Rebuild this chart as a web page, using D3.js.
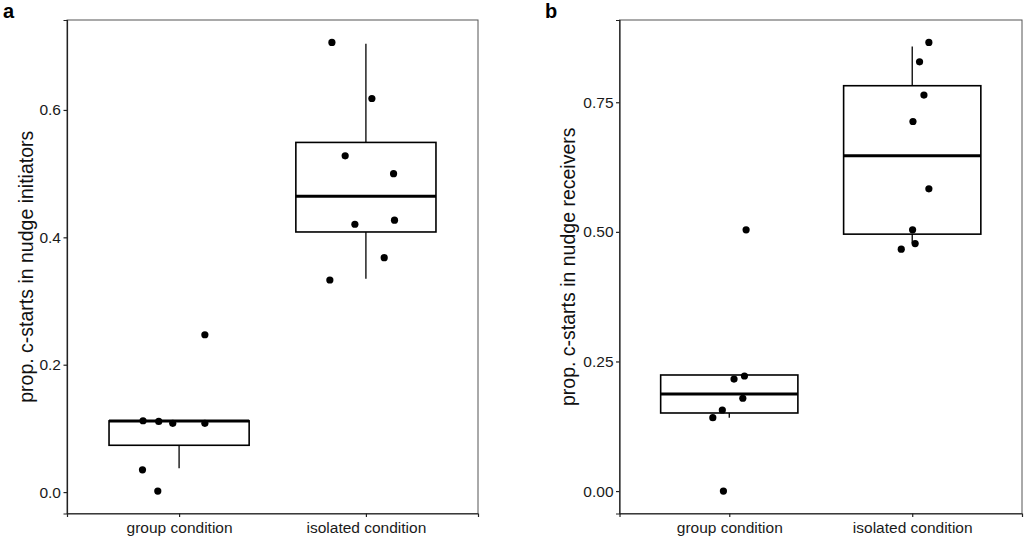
<!DOCTYPE html>
<html>
<head>
<meta charset="utf-8">
<script src="https://cdn.jsdelivr.net/npm/d3@7"></script>
<style>
  html, body { margin: 0; padding: 0; background: #fff; }
  svg { display: block; }
  text { font-family: "Liberation Sans", Arial, Helvetica, sans-serif; }
</style>
</head>
<body>
<svg id="chart" width="1024" height="538"></svg>
<script>
// ---- data ----
const categories = ["group condition", "isolated condition"];

// Panel a: prop. c-starts in nudge initiators (points as plotted, with jitter offsets in category units)
const aGroupValues    = [0.112, 0.111, 0.108, 0.108, 0.035, 0.0016, 0.247];
const aGroupJitter    = [-0.193, -0.109, -0.034, 0.138, -0.196, -0.114, 0.138];
const aIsolatedValues = [0.706, 0.618, 0.528, 0.500, 0.4205, 0.427, 0.368, 0.333];
const aIsolatedJitter = [-0.182, 0.032, -0.111, 0.148, -0.059, 0.153, 0.098, -0.193];
// box stats [whiskerLow, q1, median, q3, whiskerHigh]
const aGroupBox    = [0.0373, 0.0735, 0.1118, 0.1118, 0.1118];
const aIsolatedBox = [0.335, 0.4084, 0.4646, 0.549, 0.704];

// Panel b: prop. c-starts in nudge receivers
const bGroupValues    = [0.504, 0.216, 0.222, 0.179, 0.1564, 0.1415, 0.0];
const bGroupJitter    = [0.092, 0.026, 0.083, 0.074, -0.038, -0.090, -0.032];
const bIsolatedValues = [0.8654, 0.828, 0.7639, 0.7129, 0.583, 0.5039, 0.4774, 0.4666];
const bIsolatedJitter = [0.091, 0.040, 0.064, 0.004, 0.091, 0.002, 0.016, -0.060];
const bGroupBox    = [0.1415, 0.1506, 0.1873, 0.2239, 0.2239];
const bIsolatedBox = [0.478, 0.4956, 0.6467, 0.7819, 0.8577];

const aTicks = [0.0, 0.2, 0.4, 0.6];
const bTicks = [0.00, 0.25, 0.50, 0.75];

const panels = [
  { label: "a", title: "prop. c-starts in nudge initiators",
    values: [aGroupValues, aIsolatedValues], jitter: [aGroupJitter, aIsolatedJitter],
    boxes: [aGroupBox, aIsolatedBox], ticks: aTicks, fmt: d3.format(".1f"),
    left: 67, right: 478, labelX: 3, titleX: 32.5 },
  { label: "b", title: "prop. c-starts in nudge receivers",
    values: [bGroupValues, bIsolatedValues], jitter: [bGroupJitter, bIsolatedJitter],
    boxes: [bGroupBox, bIsolatedBox], ticks: bTicks, fmt: d3.format(".2f"),
    left: 619.5, right: 1022, labelX: 545, titleX: 574.5 }
];

const plotTop = 20, plotBottom = 513.5;
const svg = d3.select("#chart");

panels.forEach(p => {
  const all = p.values.flat();
  const [mn, mx] = d3.extent(all);
  const pad = (mx - mn) * 0.05;
  const y = d3.scaleLinear().domain([mn - pad, mx + pad]).range([plotBottom, plotTop]);
  // discrete x like ggplot: positions 1..n with 0.6 expansion
  const x = d3.scaleLinear().domain([0.4, categories.length + 0.6]).range([p.left, p.right]);
  const boxW = 0.75;

  const g = svg.append("g");

  // panel border
  g.append("rect")
    .attr("x", p.left).attr("y", plotTop)
    .attr("width", p.right - p.left).attr("height", plotBottom - plotTop)
    .attr("fill", "none").attr("stroke", "#555").attr("stroke-width", 1);

  // y axis
  const yAxis = d3.axisLeft(y).tickValues(p.ticks).tickFormat(p.fmt).tickSize(3.5).tickPadding(2.5);
  const ya = g.append("g").attr("transform", `translate(${p.left},0)`).call(yAxis);
  ya.select(".domain").attr("stroke", "#222").attr("stroke-width", 1.2);
  ya.selectAll(".tick line").attr("stroke", "#222").attr("stroke-width", 1.2);
  ya.selectAll(".tick text").attr("font-size", 15.5).attr("fill", "#1a1a1a");

  // x axis
  const xAxis = d3.axisBottom(x).tickValues(categories.map((c, i) => i + 1))
    .tickFormat((d) => categories[d - 1]).tickSize(3.5).tickPadding(4.5);
  const xa = g.append("g").attr("transform", `translate(0,${plotBottom})`).call(xAxis);
  xa.select(".domain").attr("stroke", "#222").attr("stroke-width", 1.2);
  xa.selectAll(".tick line").attr("stroke", "#222").attr("stroke-width", 1.2);
  xa.selectAll(".tick text").attr("font-size", 15.5).attr("fill", "#1a1a1a");

  // boxes
  p.boxes.forEach((b, i) => {
    const cx = x(i + 1);
    const x0 = x(i + 1 - boxW / 2), x1 = x(i + 1 + boxW / 2);
    const [wl, q1, med, q3, wh] = b;
    g.append("line").attr("x1", cx).attr("x2", cx).attr("y1", y(q3)).attr("y2", y(wh))
      .attr("stroke", "#000").attr("stroke-width", 1.3);
    g.append("line").attr("x1", cx).attr("x2", cx).attr("y1", y(q1)).attr("y2", y(wl))
      .attr("stroke", "#000").attr("stroke-width", 1.3);
    g.append("rect").attr("x", x0).attr("y", y(q3)).attr("width", x1 - x0)
      .attr("height", y(q1) - y(q3)).attr("fill", "#fff")
      .attr("stroke", "#000").attr("stroke-width", 1.6);
    g.append("line").attr("x1", x0).attr("x2", x1).attr("y1", y(med)).attr("y2", y(med))
      .attr("stroke", "#000").attr("stroke-width", 3);
  });

  // points
  p.values.forEach((vals, i) => {
    g.selectAll(null).data(vals).enter().append("circle")
      .attr("cx", (d, j) => x(i + 1 + p.jitter[i][j]))
      .attr("cy", d => y(d))
      .attr("r", 3.6).attr("fill", "#000");
  });

  // y title
  g.append("text")
    .attr("transform", `translate(${p.titleX},${(plotTop + plotBottom) / 2}) rotate(-90)`)
    .attr("text-anchor", "middle")
    .attr("font-size", 19.5).attr("fill", "#111").text(p.title);

  // panel label
  g.append("text").attr("x", p.labelX).attr("y", 18)
    .attr("font-size", 20).attr("font-weight", "bold").attr("fill", "#000").text(p.label);
});
</script>
</body>
</html>
